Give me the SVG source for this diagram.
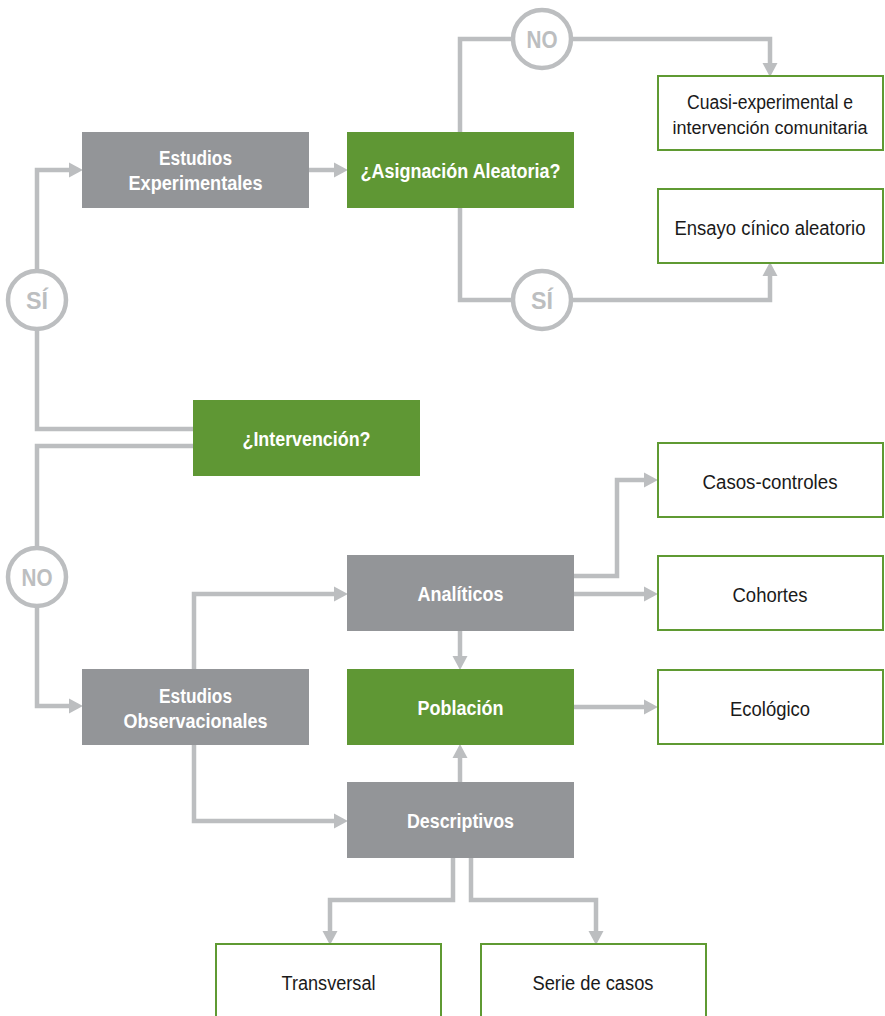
<svg xmlns="http://www.w3.org/2000/svg" width="885" height="1016" viewBox="0 0 885 1016">
<style>
.gray{fill:#939598}
.green{fill:#5f9734}
.out{fill:#ffffff;stroke:#5f9a32;stroke-width:2}
.wt{font-family:"Liberation Sans Narrow","Liberation Sans",Arial,sans-serif;font-weight:bold;font-size:20px;fill:#ffffff;text-anchor:middle}
.bt{font-family:"Liberation Sans Narrow","Liberation Sans",Arial,sans-serif;font-size:20px;fill:#1a1a1a;text-anchor:middle}
.bt18{font-family:"Liberation Sans Narrow","Liberation Sans",Arial,sans-serif;font-size:18px;fill:#1a1a1a;text-anchor:middle}
.ct{font-family:"Liberation Sans Narrow","Liberation Sans",Arial,sans-serif;font-weight:bold;font-size:24px;fill:#bcbec0;text-anchor:middle}
.ln{fill:none;stroke:#bcbec0;stroke-width:4.5;stroke-linejoin:miter}
.circ{fill:#ffffff;stroke:#bcbec0;stroke-width:4.5}
</style>
<defs>
<marker id="ah" markerUnits="userSpaceOnUse" markerWidth="14" markerHeight="16" refX="1" refY="7" orient="auto" viewBox="0 0 13 14">
<path d="M0,0 L13,7 L0,14 z" fill="#bcbec0"/>
</marker>
</defs>
<rect width="885" height="1016" fill="#ffffff"/>
<g id="connectors">
<path class="ln" d="M193,429 H37 V170 H70" marker-end="url(#ah)"/>
<path class="ln" d="M193,446 H37 V706 H70" marker-end="url(#ah)"/>
<path class="ln" d="M309,170 H335" marker-end="url(#ah)"/>
<path class="ln" d="M460,132 V39 H770 V64" marker-end="url(#ah)"/>
<path class="ln" d="M460,208 V300 H770 V275" marker-end="url(#ah)"/>
<path class="ln" d="M194,669 V594 H335" marker-end="url(#ah)"/>
<path class="ln" d="M194,745 V821 H335" marker-end="url(#ah)"/>
<path class="ln" d="M574,576 H617 V480 H645" marker-end="url(#ah)"/>
<path class="ln" d="M574,594 H645" marker-end="url(#ah)"/>
<path class="ln" d="M460,631 V657" marker-end="url(#ah)"/>
<path class="ln" d="M574,707 H645" marker-end="url(#ah)"/>
<path class="ln" d="M460,782 V757" marker-end="url(#ah)"/>
<path class="ln" d="M453,858 V900 H330 V932" marker-end="url(#ah)"/>
<path class="ln" d="M471,858 V900 H596 V932" marker-end="url(#ah)"/>
<circle class="circ" cx="542" cy="39" r="29"/>
<text class="ct" x="542" y="48" textLength="31" lengthAdjust="spacingAndGlyphs">NO</text>
<circle class="circ" cx="542" cy="300" r="29"/>
<text class="ct" x="542" y="309" textLength="22" lengthAdjust="spacingAndGlyphs">SÍ</text>
<circle class="circ" cx="37" cy="300" r="29"/>
<text class="ct" x="37" y="309" textLength="22" lengthAdjust="spacingAndGlyphs">SÍ</text>
<circle class="circ" cx="37" cy="577" r="29"/>
<text class="ct" x="37" y="586" textLength="31" lengthAdjust="spacingAndGlyphs">NO</text>
</g>
<g id="estudios-experimentales">
<rect class="gray" x="82" y="132" width="227" height="76"/>
<text class="wt" x="195.5" y="165" textLength="73" lengthAdjust="spacingAndGlyphs">Estudios</text>
<text class="wt" x="195.5" y="190" textLength="134" lengthAdjust="spacingAndGlyphs">Experimentales</text>
</g>
<g id="asignacion">
<rect class="green" x="347" y="132" width="227" height="76"/>
<text class="wt" x="460.5" y="178" textLength="200" lengthAdjust="spacingAndGlyphs">¿Asignación Aleatoria?</text>
</g>
<g id="cuasi">
<rect class="out" x="658" y="76" width="225" height="74"/>
<text class="bt" x="770" y="109" textLength="166" lengthAdjust="spacingAndGlyphs">Cuasi-experimental e</text>
<text class="bt18" x="770" y="134">intervención comunitaria</text>
</g>
<g id="ensayo">
<rect class="out" x="658" y="189" width="225" height="74"/>
<text class="bt" x="770" y="235" textLength="191" lengthAdjust="spacingAndGlyphs">Ensayo cínico aleatorio</text>
</g>
<g id="intervencion">
<rect class="green" x="193" y="400" width="227" height="76"/>
<text class="wt" x="306.5" y="446" textLength="128" lengthAdjust="spacingAndGlyphs">¿Intervención?</text>
</g>
<g id="estudios-observacionales">
<rect class="gray" x="82" y="669" width="227" height="76"/>
<text class="wt" x="195.5" y="703" textLength="73" lengthAdjust="spacingAndGlyphs">Estudios</text>
<text class="wt" x="195.5" y="728" textLength="144" lengthAdjust="spacingAndGlyphs">Observacionales</text>
</g>
<g id="analiticos">
<rect class="gray" x="347" y="555" width="227" height="76"/>
<text class="wt" x="460.5" y="601" textLength="86" lengthAdjust="spacingAndGlyphs">Analíticos</text>
</g>
<g id="poblacion">
<rect class="green" x="347" y="669" width="227" height="76"/>
<text class="wt" x="460.5" y="715" textLength="86" lengthAdjust="spacingAndGlyphs">Población</text>
</g>
<g id="descriptivos">
<rect class="gray" x="347" y="782" width="227" height="76"/>
<text class="wt" x="460.5" y="828" textLength="107" lengthAdjust="spacingAndGlyphs">Descriptivos</text>
</g>
<g id="casos-controles">
<rect class="out" x="658" y="443" width="225" height="74"/>
<text class="bt" x="770" y="489" textLength="135" lengthAdjust="spacingAndGlyphs">Casos-controles</text>
</g>
<g id="cohortes">
<rect class="out" x="658" y="556" width="225" height="74"/>
<text class="bt" x="770" y="602" textLength="75" lengthAdjust="spacingAndGlyphs">Cohortes</text>
</g>
<g id="ecologico">
<rect class="out" x="658" y="670" width="225" height="74"/>
<text class="bt" x="770" y="716" textLength="80" lengthAdjust="spacingAndGlyphs">Ecológico</text>
</g>
<g id="transversal">
<rect class="out" x="216" y="944" width="225" height="80"/>
<text class="bt" x="328.5" y="990" textLength="94" lengthAdjust="spacingAndGlyphs">Transversal</text>
</g>
<g id="serie-de-casos">
<rect class="out" x="481" y="944" width="225" height="80"/>
<text class="bt" x="593" y="990" textLength="121" lengthAdjust="spacingAndGlyphs">Serie de casos</text>
</g>
</svg>
